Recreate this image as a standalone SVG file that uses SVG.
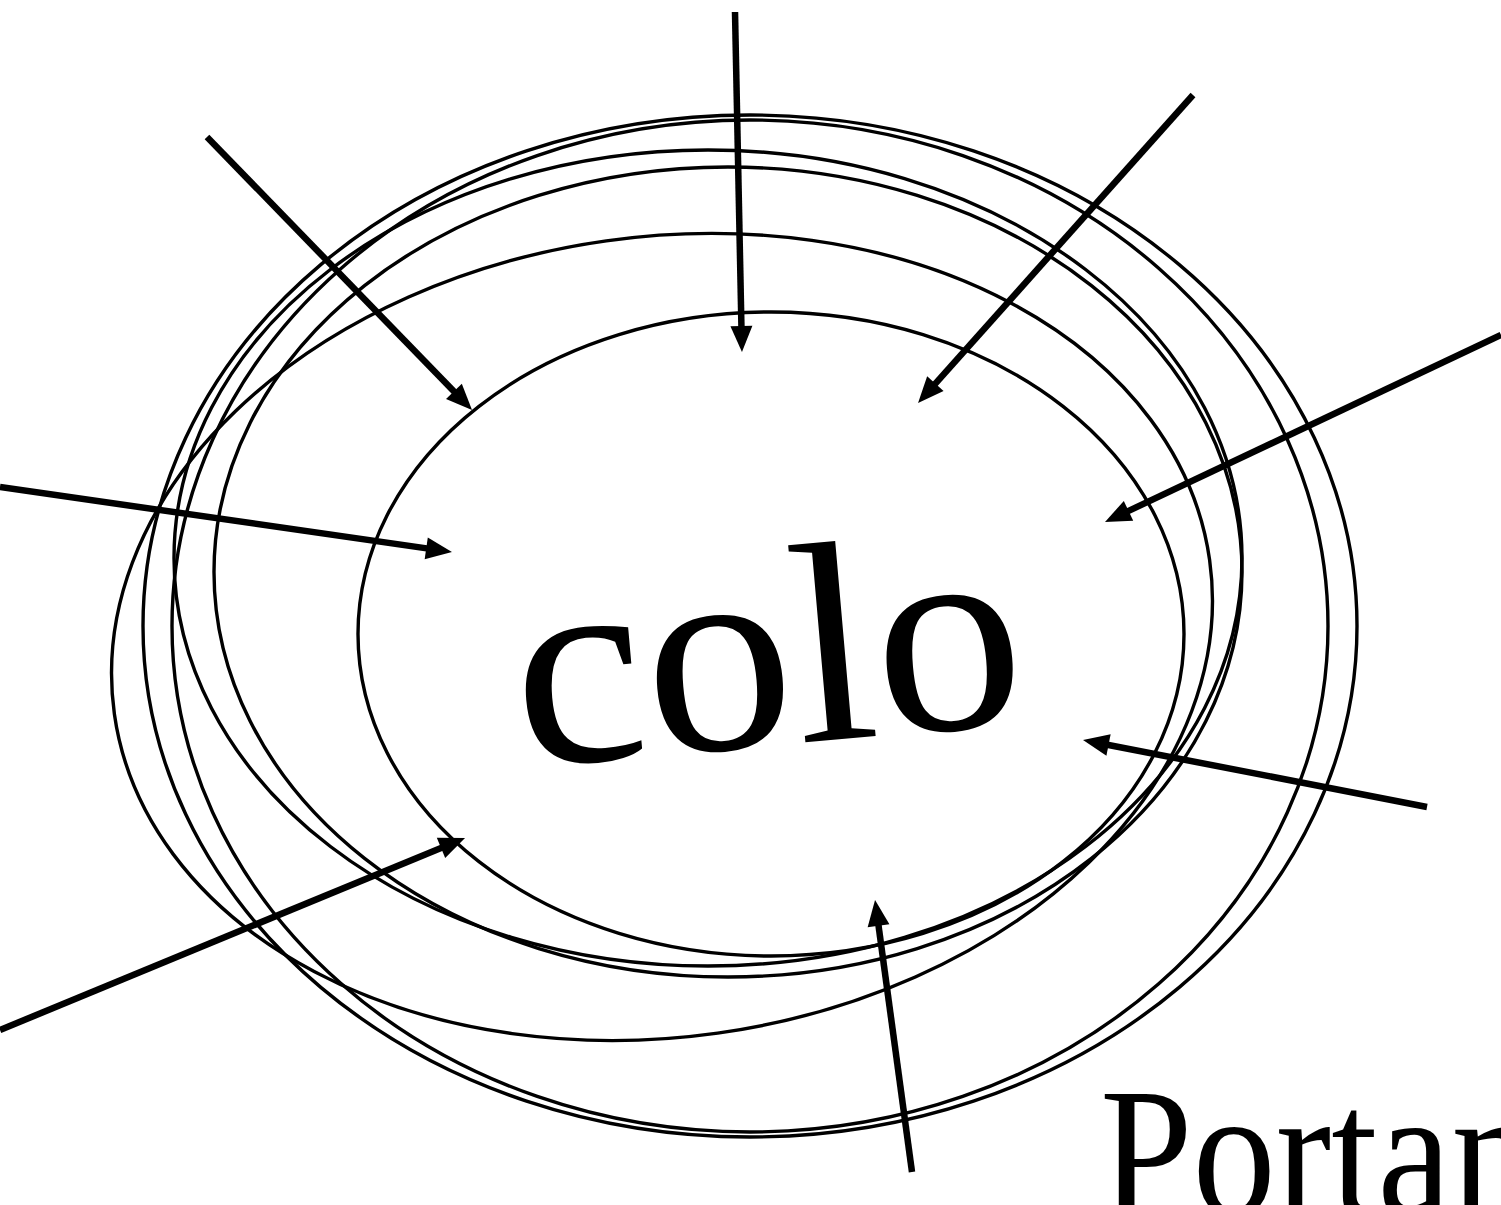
<svg xmlns="http://www.w3.org/2000/svg" width="1501" height="1205" viewBox="0 0 1501 1205">
<style>
.ring{fill:none;stroke:#000;stroke-width:3.4}
.conn{fill:none;stroke:#000;stroke-width:6.5;stroke-linecap:butt;marker-end:url(#ah)}
.lbl{fill:#000;font-family:"Liberation Serif","Times New Roman",serif}
</style>
<defs>
<marker id="ah" markerUnits="userSpaceOnUse" markerWidth="26" markerHeight="22" refX="4" refY="11" orient="auto" overflow="visible">
<path d="M0,0 L26,11 L0,22 Z" fill="#000"/>
</marker>
</defs>
<rect width="1501" height="1205" fill="#fff"/>
<g id="rings">
<ellipse id="ring-d1" class="ring" cx="750" cy="626" rx="607" ry="511"/>
<ellipse id="ring-d2" class="ring" cx="750" cy="626" rx="578" ry="506"/>
<ellipse id="ring-c1" class="ring" cx="708" cy="558" rx="534" ry="408"/>
<ellipse id="ring-c2" class="ring" cx="728" cy="572" rx="514" ry="405"/>
<ellipse id="ring-b" class="ring" cx="662" cy="637" rx="553" ry="400" transform="rotate(-8 662 637)"/>
</g>
<g id="node-colo">
<ellipse class="ring" cx="771" cy="634" rx="413" ry="322"/>
<text class="lbl" x="0" y="0" font-size="285" text-anchor="middle" transform="rotate(-5 773 745) translate(775 745) scale(1.04 1)">colo</text>
</g>
<g id="node-portan">
<text class="lbl" x="0" y="0" font-size="185" transform="translate(1100 1214) scale(0.9 1)">Portan</text>
</g>
<g id="connectors">
<line class="conn" x1="207" y1="137" x2="456.7" y2="394.2"/>
<line class="conn" x1="735" y1="12" x2="741.5" y2="330"/>
<line class="conn" x1="1193" y1="95" x2="932.7" y2="386.6"/>
<line class="conn" x1="1501" y1="335" x2="1124.9" y2="512.6"/>
<line class="conn" x1="0" y1="487" x2="430.2" y2="548.9"/>
<line class="conn" x1="1427" y1="807" x2="1104.6" y2="744.2"/>
<line class="conn" x1="912" y1="1172" x2="878" y2="921.8"/>
<line class="conn" x1="0" y1="1030" x2="444.7" y2="846.4"/>
</g>
</svg>
